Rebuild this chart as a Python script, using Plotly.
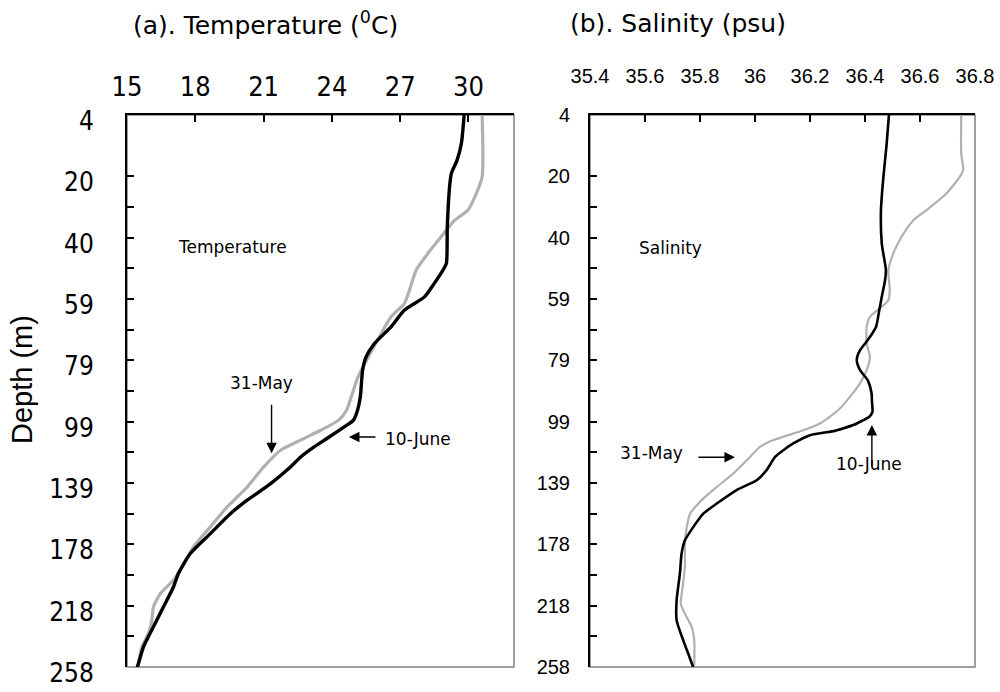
import plotly.graph_objects as go

# depth axis is a category-like axis: evenly spaced positions, labelled with depths
depth_labels = ["4", "20", "40", "59", "79", "99", "139", "178", "218", "258"]
depth_label_pos = [0, 2, 4, 6, 8, 10, 12, 14, 16, 18]
depth_minor_pos = [3, 5, 7, 9, 11, 13, 15, 17]

# Temperature (degC), 31-May (grey)
temp_may_level = [0, 2.01, 2.67, 3.10, 3.43, 3.97, 4.51, 5.06, 5.71, 6.14, 6.58, 7.23,
                  7.89, 8.54, 9.19, 9.62, 9.95, 10.28, 10.60, 10.93, 11.47, 12.13, 12.78,
                  13.43, 14.08, 14.74, 15.17, 15.61, 16.04, 16.48, 16.91, 17.35, 17.89, 18]
temp_may = [30.6, 30.6, 30.28, 29.98, 29.4, 28.8, 28.22, 27.7, 27.41, 27.19, 26.6, 26.09,
            25.6, 25.15, 24.85, 24.65, 24.3, 23.51, 22.63, 21.75, 21.01, 20.28, 19.4,
            18.66, 17.92, 17.41, 17.04, 16.46, 16.16, 16.09, 15.94, 15.65, 15.5, 15.45]

# Temperature (degC), 10-June (black)
temp_jun_level = [0, 0.92, 1.47, 1.90, 2.34, 3.64, 4.84, 5.06, 5.49, 5.93, 6.36, 6.91,
                  7.45, 7.89, 8.32, 9.19, 9.62, 9.95, 10.17, 10.50, 10.82, 11.15, 11.47,
                  12.02, 12.56, 13.00, 13.65, 14.30, 14.95, 15.39, 16.04, 16.69, 17.35,
                  17.89, 18]
temp_jun = [29.81, 29.69, 29.5, 29.25, 29.17, 29.07, 29.03, 28.88, 28.5, 28.07, 27.19, 26.6,
            25.87, 25.5, 25.35, 25.25, 25.13, 24.95, 24.54, 23.88, 23.22, 22.63, 22.19,
            21.31, 20.28, 19.54, 18.66, 17.78, 17.26, 17.04, 16.6, 16.16, 15.72,
            15.5, 15.45]

# Salinity (psu), 31-May (grey)
sal_may_level = [0, 1.25, 1.79, 2.01, 2.55, 3.10, 3.43, 3.97, 4.51, 5.06, 5.71, 6.04,
                 6.25, 6.58, 6.91, 7.45, 7.89, 8.32, 8.75, 9.19, 9.62, 10.06, 10.28, 10.60,
                 10.82, 11.26, 11.69, 12.13, 12.56, 13.00, 13.43, 13.97, 14.74, 15.39,
                 15.93, 16.26, 16.69, 17.13, 18]
sal_may = [36.75, 36.75, 36.757, 36.745, 36.697, 36.624, 36.576, 36.533, 36.503, 36.485,
           36.49, 36.485, 36.461, 36.418, 36.406, 36.406, 36.418, 36.406, 36.382, 36.345,
           36.303, 36.236, 36.176, 36.067, 36.018, 35.97, 35.921, 35.861, 35.806, 35.764,
           35.752, 35.745, 35.745, 35.737, 35.73, 35.745, 35.77, 35.779, 35.779]

# Salinity (psu), 10-June (black)
sal_jun_level = [0, 0.92, 2.01, 3.10, 4.19, 5.06, 5.38, 5.93, 6.36, 6.91, 7.34, 7.67,
                 7.99, 8.32, 8.65, 9.08, 9.30, 9.68, 9.84, 9.97, 10.10, 10.22, 10.30, 10.44,
                 10.71, 10.93, 11.15, 11.58, 11.91, 12.23, 12.67, 13.00, 13.43, 13.87,
                 14.30, 14.95, 15.82, 16.48, 17.13, 17.56, 18]
sal_jun = [36.487, 36.479, 36.467, 36.458, 36.461, 36.476, 36.473, 36.461, 36.452, 36.44,
           36.41, 36.382, 36.37, 36.382, 36.41, 36.424, 36.425, 36.427, 36.416, 36.39,
           36.36, 36.32, 36.29, 36.2, 36.139, 36.103, 36.073, 36.042, 36.006, 35.933,
           35.861, 35.812, 35.776, 35.745, 35.733, 35.727, 35.715, 35.715, 35.739,
           35.757, 35.775]

temp_ticks = [15, 18, 21, 24, 27, 30]
sal_ticks = [35.4, 35.6, 35.8, 36.0, 36.2, 36.4, 36.6, 36.8]
sal_ticktext = ["35.4", "35.6", "35.8", "36", "36.2", "36.4", "36.6", "36.8"]

GREY = "rgb(176,176,176)"
NARROW = "Liberation Sans Narrow, Arial Narrow, DejaVu Sans Condensed, Liberation Sans, sans-serif"
SANS = "Liberation Sans, Arial, sans-serif"
WIDE = "DejaVu Sans, Verdana, sans-serif"

fig = go.Figure()

fig.add_trace(go.Scatter(x=temp_may, y=temp_may_level, mode="lines", name="31-May",
                         line=dict(color=GREY, width=3.2, shape="spline", smoothing=0.6),
                         xaxis="x", yaxis="y"))
fig.add_trace(go.Scatter(x=temp_jun, y=temp_jun_level, mode="lines", name="10-June",
                         line=dict(color="black", width=3.4, shape="spline", smoothing=0.6),
                         xaxis="x", yaxis="y"))
fig.add_trace(go.Scatter(x=sal_may, y=sal_may_level, mode="lines", name="31-May",
                         line=dict(color=GREY, width=2.2, shape="spline", smoothing=0.6),
                         xaxis="x2", yaxis="y2"))
fig.add_trace(go.Scatter(x=sal_jun, y=sal_jun_level, mode="lines", name="10-June",
                         line=dict(color="black", width=2.6, shape="spline", smoothing=0.6),
                         xaxis="x2", yaxis="y2"))

y_tickvals = depth_label_pos + depth_minor_pos
y_ticktext = depth_labels + [" "] * len(depth_minor_pos)

axis_common = dict(showgrid=False, zeroline=False, showline=True, linecolor="black",
                   linewidth=2, ticks="inside", tickcolor="black", tickwidth=1.5,
                   automargin=False)

fig.update_layout(
    width=1000, height=692,
    margin=dict(l=0, r=0, t=0, b=0, autoexpand=False),
    paper_bgcolor="white", plot_bgcolor="white",
    showlegend=False,
    xaxis=dict(domain=[0.127, 0.514], range=[15, 32], side="top", anchor="y",
               tickvals=temp_ticks, ticklen=7, ticklabelstandoff=6,
               tickfont=dict(family=NARROW, size=27, color="black"), **axis_common),
    yaxis=dict(domain=[0.0361, 0.8338], range=[18, 0], anchor="x",
               tickvals=y_tickvals, ticktext=y_ticktext, ticklen=7,
               ticklabelstandoff=26, ticklabelshift=-6,
               tickfont=dict(family=NARROW, size=26, color="black"), **axis_common),
    xaxis2=dict(domain=[0.59, 0.975], range=[35.4, 36.8], side="top", anchor="y2",
                tickvals=sal_ticks, ticktext=sal_ticktext, ticklen=7, ticklabelstandoff=22,
                tickfont=dict(family=SANS, size=20, color="black"), **axis_common),
    yaxis2=dict(domain=[0.0361, 0.8338], range=[18, 0], anchor="x2",
                tickvals=y_tickvals, ticktext=y_ticktext, ticklen=7, ticklabelstandoff=14,
                tickfont=dict(family=SANS, size=20, color="black"), **axis_common),
)

# grey frame on the right/bottom sides of both panels
for xr, yr in [("x domain", "y domain"), ("x2 domain", "y2 domain")]:
    fig.add_shape(type="rect", xref=xr, yref=yr, x0=0, x1=1, y0=0, y1=1,
                  line=dict(color="rgb(128,128,128)", width=1.5), layer="below")

# panel titles and y title
title_font = dict(family=WIDE, size=25, color="black")
fig.add_annotation(text="(a). Temperature (<sup>0</sup>C)", xref="paper", yref="paper",
                   x=0.265, y=1 - 24 / 692, xanchor="center", yanchor="middle",
                   showarrow=False, font=title_font)
fig.add_annotation(text="(b). Salinity (psu)", xref="paper", yref="paper",
                   x=0.678, y=1 - 24 / 692, xanchor="center", yanchor="middle",
                   showarrow=False, font=title_font)
fig.add_annotation(text="Depth (m)", xref="paper", yref="paper", x=0.022, y=1 - 380 / 692,
                   xanchor="center", yanchor="middle", textangle=-90, showarrow=False,
                   font=dict(family=SANS, size=29, color="black"))

label_font = dict(family=WIDE, size=17, color="black")
# in-panel labels
fig.add_annotation(text="Temperature", xref="x", yref="y", x=19.63, y=4.31,
                   showarrow=False, font=label_font)
fig.add_annotation(text="Salinity", xref="x2", yref="y2", x=35.691, y=4.34,
                   showarrow=False, font=label_font)
fig.add_annotation(text="31-May", xref="x", yref="y", x=20.91, y=8.74,
                   showarrow=False, font=label_font)
fig.add_annotation(text="10-June", xref="x", yref="y", x=27.79, y=10.57,
                   showarrow=False, font=label_font)
fig.add_annotation(text="31-May", xref="x2", yref="y2", x=35.622, y=11.03,
                   showarrow=False, font=label_font)
fig.add_annotation(text="10-June", xref="x2", yref="y2", x=36.415, y=11.39,
                   showarrow=False, font=label_font)

# arrows pointing at the profiles
arrow = dict(text="", showarrow=True, arrowhead=2, arrowsize=1.5, arrowwidth=1.4,
             arrowcolor="black")
fig.add_annotation(xref="x", yref="y", x=21.35, y=11.03, ax=0, ay=-50, **arrow)
fig.add_annotation(xref="x", yref="y", x=24.75, y=10.5, ax=28, ay=0, **arrow)
fig.add_annotation(xref="x2", yref="y2", x=35.927, y=11.16, ax=-38, ay=0, **arrow)
fig.add_annotation(xref="x2", yref="y2", x=36.425, y=10.11, ax=0, ay=43, **arrow)

fig.write_html("out.html", config={"displayModeBar": False},
               post_script="document.body.style.margin = '0';")
